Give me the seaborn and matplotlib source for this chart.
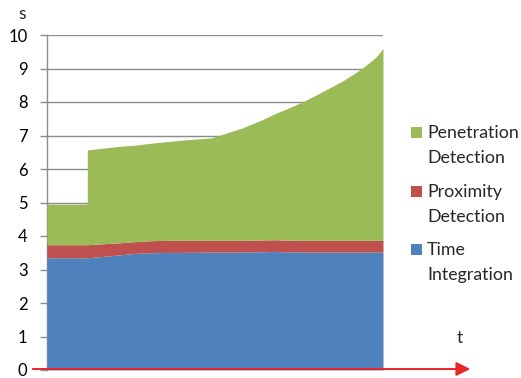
import matplotlib
matplotlib.use("Agg")
import matplotlib.pyplot as plt
from matplotlib.patches import Rectangle, FancyArrowPatch
import seaborn as sns

# Time samples (arbitrary units) and stacked run-time components in seconds
t = [0, 12, 12, 22, 26, 31, 36, 40, 49, 53, 58, 64, 68, 70, 76, 82, 88, 93, 96, 98, 100]
time_integration = [3.35, 3.35, 3.35, 3.44, 3.48, 3.50, 3.51, 3.51, 3.52, 3.52, 3.52,
                    3.53, 3.54, 3.53, 3.52, 3.52, 3.52, 3.52, 3.52, 3.52, 3.52]
proximity_detection = [0.39, 0.39, 0.39, 0.36, 0.35, 0.36, 0.36, 0.36, 0.35, 0.35, 0.35,
                       0.35, 0.35, 0.35, 0.35, 0.35, 0.35, 0.35, 0.35, 0.35, 0.35]
penetration_detection = [1.21, 1.21, 2.83, 2.88, 2.88, 2.91, 2.95, 2.99, 3.06, 3.19, 3.35,
                         3.59, 3.77, 3.86, 4.13, 4.44, 4.76, 5.08, 5.31, 5.48, 5.73]

series_labels = ["Time\nIntegration", "Proximity\nDetection", "Penetration\nDetection"]
series_colors = ["#4F81BD", "#C0504D", "#9BBB59"]
y_ticks = [0, 1, 2, 3, 4, 5, 6, 7, 8, 9, 10]

sns.set_theme(style="white")
plt.rcParams["font.family"] = ["Lato", "DejaVu Sans"]

W, H = 521, 378
fig = plt.figure(figsize=(W / 100, H / 100), dpi=100)


def fx(px):
    return px / W


def fy(py):
    return 1 - py / H


ax = fig.add_axes([fx(47), fy(370), fx(383) - fx(47), fy(35) - fy(370)])

ax.stackplot(t, time_integration, proximity_detection, penetration_detection,
             colors=series_colors, linewidth=0, zorder=3)

ax.set_xlim(0, 100)
ax.set_ylim(0, 10)
ax.set_yticks(y_ticks)
ax.set_yticklabels([str(v) for v in y_ticks], fontsize=12, color="black")
ax.set_xticks([])
ax.yaxis.grid(True, color="#8C8C8C", linewidth=1.0, zorder=0)
ax.set_axisbelow(True)
ax.tick_params(axis="y", direction="out", length=5, width=1, color="#8C8C8C",
               pad=9, left=True)
sns.despine(ax=ax, top=True, right=True, bottom=True, left=False)
ax.spines["left"].set_color("#8C8C8C")
ax.spines["left"].set_linewidth(1.0)
ax.patch.set_alpha(0)

# Axis names
fig.text(fx(22), fy(14), "s", fontsize=12.5, ha="center", va="center")
fig.text(fx(460), fy(338), "t", fontsize=12.5, ha="center", va="center")

# Red time arrow along the baseline
fig.add_artist(FancyArrowPatch(
    (fx(30), fy(369)), (fx(473), fy(369)), transform=fig.transFigure,
    arrowstyle="-|>,head_length=0.6,head_width=0.3", mutation_scale=14,
    color="#E8252A", linewidth=1.4, zorder=10))

# Legend entries, top to bottom in stacking order reversed
entries = [(2, 138), (1, 197), (0, 255)]
for idx, baseline in entries:
    fig.add_artist(Rectangle((fx(411), fy(baseline)), fx(11), 11 / H,
                             transform=fig.transFigure,
                             facecolor=series_colors[idx], edgecolor="none"))
    first, second = series_labels[idx].split("\n")
    fig.text(fx(427), fy(baseline), first, fontsize=12.8, ha="left", va="baseline")
    fig.text(fx(427), fy(baseline + 25), second, fontsize=12.8, ha="left", va="baseline")

fig.savefig("out.png", dpi=100)
